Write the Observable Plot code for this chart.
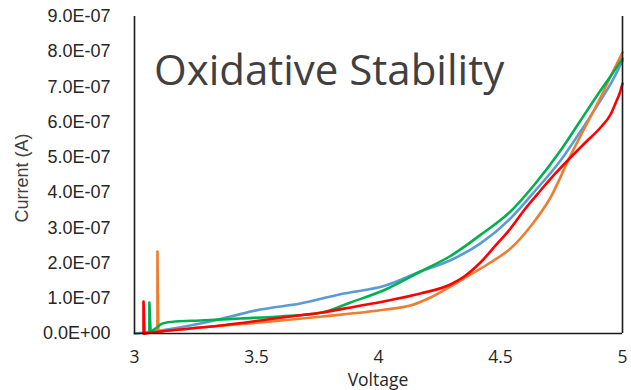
<!DOCTYPE html>
<html>
<head>
<meta charset="utf-8">
<script src="https://cdn.jsdelivr.net/npm/d3@7"></script>
<script src="https://cdn.jsdelivr.net/npm/@observablehq/plot@0.6"></script>
<style>
  html, body { margin: 0; padding: 0; background: #fff; }
</style>
</head>
<body>
<div id="chart"></div>
<script>
const title = "Oxidative Stability";
const xLabel = "Voltage";
const yLabel = "Current (A)";
const xTicks = [3, 3.5, 4, 4.5, 5];
const yTicks = [0, 1e-7, 2e-7, 3e-7, 4e-7, 5e-7, 6e-7, 7e-7, 8e-7, 9e-7];

// Series (voltage, current in units of 1e-7 A)
const blueV = [3.000, 3.107, 3.270, 3.393, 3.516, 3.680, 3.844, 4.029, 4.172, 4.295, 4.418, 4.541, 4.643, 4.746, 4.828, 4.910, 4.959, 5.000];
const blueI = [0.00, 0.085, 0.284, 0.483, 0.681, 0.852, 1.116, 1.363, 1.760, 2.080, 2.560, 3.270, 4.060, 4.910, 5.740, 6.620, 7.180, 7.750];

const orangeV = [3.094, 3.094, 3.098, 3.270, 3.516, 3.770, 4.029, 4.131, 4.213, 4.295, 4.377, 4.459, 4.541, 4.623, 4.705, 4.787, 4.848, 4.910, 4.959, 5.000];
const orangeI = [0.057, 2.328, 0.057, 0.170, 0.312, 0.483, 0.681, 0.795, 1.022, 1.334, 1.675, 2.016, 2.413, 3.038, 3.861, 5.054, 5.877, 6.701, 7.411, 7.978];

const greenV = [3.061, 3.061, 3.066, 3.086, 3.115, 3.168, 3.270, 3.434, 3.598, 3.770, 3.885, 4.029, 4.172, 4.295, 4.418, 4.541, 4.643, 4.746, 4.828, 4.910, 4.959, 5.000];
const greenI = [0.057, 0.880, 0.057, 0.142, 0.284, 0.341, 0.369, 0.426, 0.483, 0.596, 0.880, 1.249, 1.760, 2.200, 2.800, 3.464, 4.259, 5.196, 6.048, 6.899, 7.382, 7.808];

const redV = [3.037, 3.037, 3.041, 3.107, 3.230, 3.352, 3.516, 3.639, 3.770, 3.906, 4.020, 4.172, 4.295, 4.357, 4.418, 4.480, 4.541, 4.602, 4.664, 4.725, 4.787, 4.848, 4.910, 4.951, 4.971, 4.988, 5.000];
const redI = [0.000, 0.909, 0.000, 0.057, 0.142, 0.227, 0.369, 0.483, 0.596, 0.767, 0.909, 1.136, 1.391, 1.647, 2.016, 2.499, 2.981, 3.549, 4.060, 4.543, 4.997, 5.423, 5.849, 6.218, 6.530, 6.814, 7.098];

// number of leading points forming the start-up spike in each series
const series = [
  {name: "blue", color: "#5B9BD5", v: blueV, i: blueI, spike: 0},
  {name: "orange", color: "#ED7D31", v: orangeV, i: orangeI, spike: 3},
  {name: "green", color: "#00B050", v: greenV, i: greenI, spike: 3},
  {name: "red", color: "#FF0000", v: redV, i: redI, spike: 3}
];

const rows = series.flatMap(s => s.v.map((x, k) => ({series: s.name, k, x, y: s.i[k] * 1e-7})));

function fmtE(d) {
  const [m, e] = d.toExponential(1).split("e");
  const sign = e[0] === "-" ? "-" : "+";
  const n = Math.abs(+e);
  return m + "E" + sign + String(n).padStart(2, "0");
}

const lineMarks = series.flatMap(s => {
  const r = rows.filter(d => d.series === s.name);
  const marks = [];
  if (s.spike > 0) {
    marks.push(Plot.line(r.slice(0, s.spike), {x: "x", y: "y", stroke: s.color, strokeWidth: 2.6, strokeLinejoin: "round"}));
  }
  const main = r.slice(Math.max(0, s.spike - 1));
  marks.push(Plot.line(main, {x: "x", y: "y", stroke: s.color, strokeWidth: 2.6, strokeLinejoin: "round", curve: "monotone-x"}));
  return marks;
});

const W = 631, H = 390;
const chart = Plot.plot({
  width: W,
  height: H,
  marginLeft: 134,
  marginRight: 9,
  marginTop: 16,
  marginBottom: 57,
  style: {background: "#fff", color: "#262626"},
  x: {domain: [3, 5], label: null},
  y: {domain: [0, 9e-7], label: null},
  marks: [
    Plot.axisY({ticks: yTicks, tickSize: 0, tickPadding: 24, tickFormat: fmtE, label: null,
      fontSize: 18, fontFamily: "Liberation Sans, Arial, sans-serif", fill: "#262626"}),
    Plot.axisX({ticks: xTicks, tickSize: 0, tickPadding: 17, tickFormat: d => String(d), label: null,
      fontSize: 17.5, fontFamily: "Open Sans, sans-serif", fill: "#262626"}),
    ...lineMarks,
    Plot.ruleX([3], {stroke: "#1a1a1a", strokeWidth: 1.6}),
    Plot.ruleX([5], {stroke: "#1a1a1a", strokeWidth: 1.6}),
    Plot.ruleY([0], {stroke: "#1a1a1a", strokeWidth: 1.6})
  ]
});

const svg = d3.select(chart);
svg.append("text")
  .attr("x", 154).attr("y", 85)
  .attr("text-anchor", "start")
  .attr("font-family", "Open Sans, sans-serif")
  .attr("font-size", 42)
  .attr("fill", "#404040")
  .text(title);
svg.append("text")
  .attr("x", 378).attr("y", 386)
  .attr("text-anchor", "middle")
  .attr("font-family", "Open Sans, sans-serif")
  .attr("font-size", 17.5)
  .attr("fill", "#262626")
  .text(xLabel);
svg.append("text")
  .attr("transform", "translate(28,178) rotate(-90)")
  .attr("text-anchor", "middle")
  .attr("font-family", "Liberation Sans, Arial, sans-serif")
  .attr("font-size", 18)
  .attr("fill", "#404040")
  .text(yLabel);

document.getElementById("chart").appendChild(chart);
</script>
</body>
</html>
